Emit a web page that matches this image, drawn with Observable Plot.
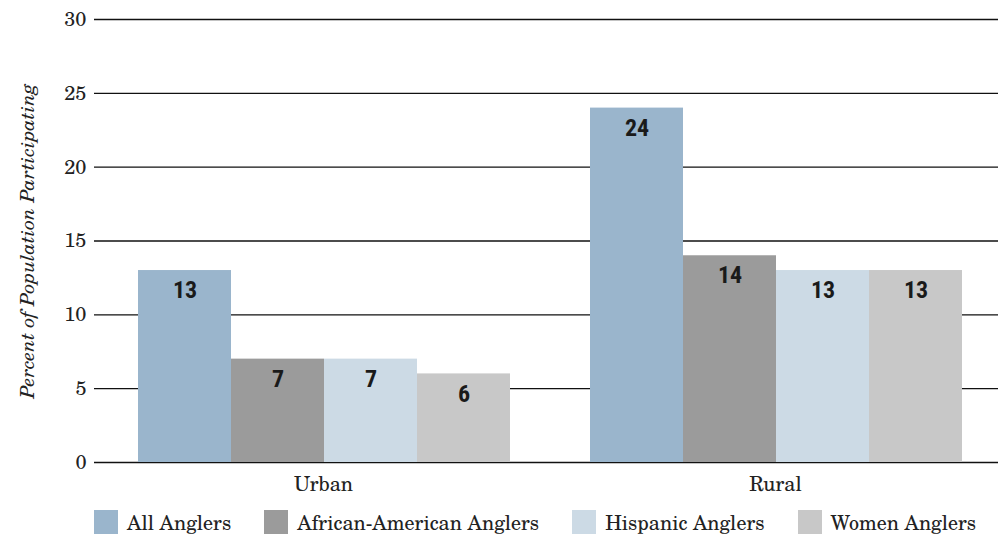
<!DOCTYPE html>
<html><head><meta charset="utf-8">
<script src="https://cdn.jsdelivr.net/npm/d3@7"></script>
<script src="https://cdn.jsdelivr.net/npm/@observablehq/plot@0.6"></script>
<style>
body{margin:0;background:#fff;}
#chart svg text{font-family:'TeX Gyre Schola',serif;}
#chart svg g[aria-label="text"] text{font-family:'Roboto Condensed',sans-serif;}
g[aria-label="y-axis label"]{font-size:19.5px;}
g[aria-label="y-axis label"] text{font-style:italic;}
.legend{display:flex;align-items:center;margin:7px 0 0 94px;font-family:'TeX Gyre Schola',serif;font-size:20px;color:#222;white-space:nowrap;}
.legend .item{display:flex;align-items:center;margin-right:33px}
.legend .sw{width:24px;height:24px;margin-right:9px}
</style></head><body><div id="chart"></div>
<script>
const areas = ["Urban", "Rural"];
const series = ["All Anglers", "African-American Anglers", "Hispanic Anglers", "Women Anglers"];
const urbanValues = [13, 7, 7, 6];
const ruralValues = [24, 14, 13, 13];
const colors = ["#9ab5cc", "#9b9b9b", "#ccdae5", "#c8c8c8"];
const yTicks = [0, 5, 10, 15, 20, 25, 30];

const data = [];
areas.forEach((a, i) => {
  const vals = i === 0 ? urbanValues : ruralValues;
  series.forEach((s, j) => data.push({area: a, series: s, value: vals[j]}));
});

const plot = Plot.plot({
  width: 1004, height: 500, marginLeft: 93, marginRight: 6, marginTop: 19, marginBottom: 38,
  style: {fontFamily: "'TeX Gyre Schola', serif", fontSize: "20px", color: "#222", background: "#fff"},
  fx: {domain: areas, paddingInner: 0, paddingOuter: 0, label: null},
  x: {domain: series, paddingInner: 0, paddingOuter: 0.413, align: 0.55, axis: null},
  y: {domain: [0, 30]},
  color: {domain: series, range: colors},
  marks: [
    Plot.ruleY(yTicks, {stroke: "#111", strokeWidth: 1.3}),
    Plot.barY(data, {fx: "area", x: "series", y: "value", fill: "series", inset: 0}),
    Plot.text(data, {fx: "area", x: "series", y: "value", text: d => String(d.value), dy: 20,
      fontFamily: "'Roboto Condensed', sans-serif", fontWeight: "bold", fontSize: 24, fill: "#1a1a1a"}),
    Plot.axisY({ticks: yTicks, tickSize: 0, tickPadding: 8, label: "Percent of Population Participating",
      labelAnchor: "center", labelArrow: "none", labelOffset: 74, fontSize: 20}),
    Plot.axisFx({anchor: "bottom", tickSize: 0, tickPadding: 14, fontSize: 20, label: null, dx: 3})
  ]
});
document.getElementById("chart").appendChild(plot);

const legend = document.createElement("div");
legend.className = "legend";
series.forEach((s, i) => {
  const item = document.createElement("div");
  item.className = "item";
  const sw = document.createElement("span");
  sw.className = "sw";
  sw.style.background = colors[i];
  const t = document.createElement("span");
  t.textContent = s;
  item.appendChild(sw); item.appendChild(t);
  legend.appendChild(item);
});
document.getElementById("chart").appendChild(legend);
</script></body></html>
